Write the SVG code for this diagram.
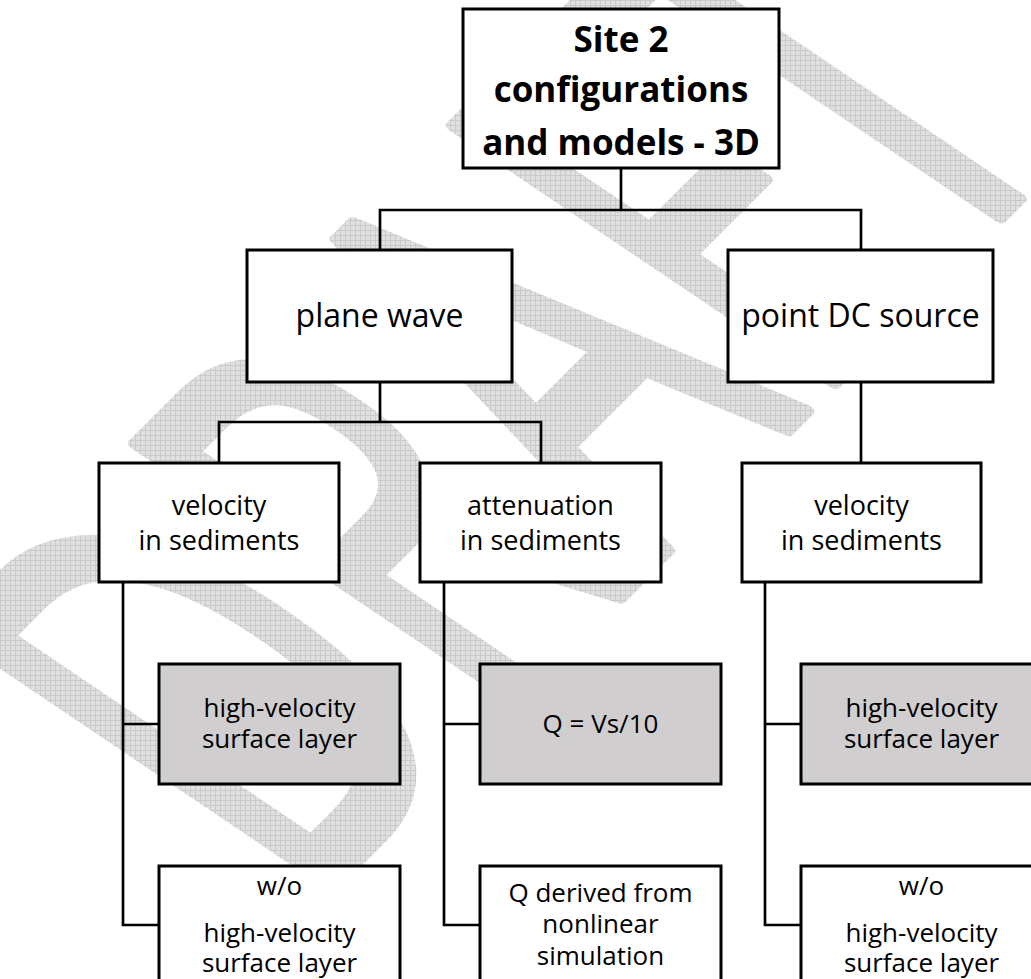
<svg xmlns="http://www.w3.org/2000/svg" width="1031" height="979" viewBox="0 0 1031 979">
<defs>
<pattern id="wm" width="5" height="5" patternUnits="userSpaceOnUse">
<rect width="5" height="5" fill="#e0e0e0"/>
<path d="M0 0.5H5M0.5 0V5" stroke="#cacaca" stroke-width="1"/>
</pattern>
<mask id="wmask" maskUnits="userSpaceOnUse" x="0" y="0" width="1031" height="979">
<text transform="matrix(0.424,-0.424,0.888,0.599,305.6,911.4)" x="0" y="0" style="font-family:'Open Sans','Liberation Sans',sans-serif;font-size:600px;fill:#fff;stroke:#fff;stroke-width:14;stroke-linejoin:round;text-anchor:start">DRAFT</text>
</mask>
<style>
.box{fill:#fff;stroke:#000;stroke-width:3}
.grey{fill:#d0cece;stroke:#000;stroke-width:3}
.conn{fill:none;stroke:#000;stroke-width:2.7}
text{font-family:"Open Sans","Liberation Sans",sans-serif;fill:#000;text-anchor:middle}
.t1{font-size:35px;font-weight:bold}
.t2{font-size:32px}
.t3{font-size:27px}
.t4{font-size:26px}
</style>
</defs>
<rect width="1031" height="979" fill="#fff"/>
<g id="watermark">
<rect width="1031" height="979" fill="url(#wm)" mask="url(#wmask)"/>
</g>
<g id="connectors">
<path class="conn" d="M621 168V210"/>
<path class="conn" d="M380 250V210H861V250"/>
<path class="conn" d="M380 382V422"/>
<path class="conn" d="M219 463V422H541V463"/>
<path class="conn" d="M861 382V463"/>
<path class="conn" d="M123 582V925H159M123 724H159"/>
<path class="conn" d="M444 582V925H480M444 724H480"/>
<path class="conn" d="M765 582V925H801M765 724H801"/>
</g>
<g id="root">
<rect class="box" x="463" y="9" width="316" height="159"/>
<text class="t1" x="621" y="52">Site 2</text>
<text class="t1" x="621" y="102">configurations</text>
<text class="t1" x="621" y="155">and models - 3D</text>
</g>
<g id="plane-wave">
<rect class="box" x="247" y="250" width="265" height="132"/>
<text class="t2" x="379.5" y="327">plane wave</text>
</g>
<g id="point-dc-source">
<rect class="box" x="728" y="250" width="265" height="132"/>
<text class="t2" x="860.5" y="327">point DC source</text>
</g>
<g id="velocity-1">
<rect class="box" x="99" y="463" width="240" height="119"/>
<text class="t3" x="219" y="515">velocity</text>
<text class="t3" x="219" y="550">in sediments</text>
</g>
<g id="attenuation">
<rect class="box" x="420" y="463" width="241" height="119"/>
<text class="t3" x="540.5" y="515">attenuation</text>
<text class="t3" x="540.5" y="550">in sediments</text>
</g>
<g id="velocity-2">
<rect class="box" x="742" y="463" width="239" height="119"/>
<text class="t3" x="861.5" y="515">velocity</text>
<text class="t3" x="861.5" y="550">in sediments</text>
</g>
<g id="hv-layer-1">
<rect class="grey" x="159" y="664" width="241" height="120"/>
<text class="t4" x="279.5" y="717">high-velocity</text>
<text class="t4" x="279.5" y="748">surface layer</text>
</g>
<g id="q-vs10">
<rect class="grey" x="480" y="664" width="241" height="120"/>
<text class="t4" x="600.5" y="733">Q = Vs/10</text>
</g>
<g id="hv-layer-2">
<rect class="grey" x="801" y="664" width="241" height="120"/>
<text class="t4" x="921.5" y="717">high-velocity</text>
<text class="t4" x="921.5" y="748">surface layer</text>
</g>
<g id="wo-layer-1">
<rect class="box" x="159" y="866" width="241" height="130"/>
<text class="t4" x="279.5" y="895">w/o</text>
<text class="t4" x="279.5" y="942">high-velocity</text>
<text class="t4" x="279.5" y="972">surface layer</text>
</g>
<g id="q-nonlinear">
<rect class="box" x="480" y="866" width="241" height="130"/>
<text class="t4" x="600.5" y="902">Q derived from</text>
<text class="t4" x="600.5" y="933">nonlinear</text>
<text class="t4" x="600.5" y="965">simulation</text>
</g>
<g id="wo-layer-2">
<rect class="box" x="801" y="866" width="241" height="130"/>
<text class="t4" x="921.5" y="895">w/o</text>
<text class="t4" x="921.5" y="942">high-velocity</text>
<text class="t4" x="921.5" y="972">surface layer</text>
</g>
</svg>
